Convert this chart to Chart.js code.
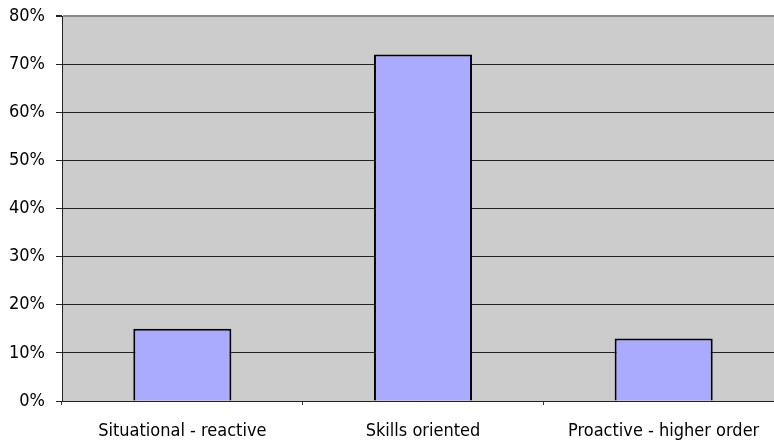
<!DOCTYPE html>
<html>
<head>
<meta charset="utf-8">
<script src="https://cdn.jsdelivr.net/npm/chart.js@4"></script>
<style>
  html, body { margin: 0; padding: 0; background: #fff; overflow: hidden; }
  #frame { width: 774px; height: 441px; overflow: hidden; position: relative; }
  #box { width: 784px; height: 441px; position: absolute; left: 0; top: 0; }
</style>
</head>
<body>
<div id="frame"><div id="box"><canvas id="c"></canvas></div></div>
<script>
// Share of responses by orientation type (percent)
const categories = ['Situational - reactive', 'Skills oriented', 'Proactive - higher order'];
const shares = [15, 72, 13];
const yTicks = [0, 10, 20, 30, 40, 50, 60, 70, 80];

const FONT = { family: "'DejaVu Sans Condensed', 'DejaVu Sans', sans-serif", size: 18 };

// Grey fill behind the plotting area
const plotBackground = {
  id: 'plotBackground',
  beforeDraw(chart) {
    const { ctx, chartArea: a } = chart;
    ctx.save();
    ctx.fillStyle = '#cccccc';
    ctx.fillRect(a.left, a.top, a.right - a.left, a.bottom - a.top);
    ctx.restore();
  }
};

new Chart(document.getElementById('c'), {
  type: 'bar',
  data: {
    labels: categories,
    datasets: [{
      data: shares,
      backgroundColor: '#aaaaff',
      borderColor: '#000000',
      borderWidth: 2,
      categoryPercentage: 1,
      barPercentage: 0.4075
    }]
  },
  options: {
    responsive: true,
    maintainAspectRatio: false,
    animation: false,
    devicePixelRatio: 1,
    layout: { padding: { top: 16, right: 0, bottom: 0, left: 0 } },
    plugins: { legend: { display: false }, tooltip: { enabled: false } },
    scales: {
      x: {
        offset: true,
        grid: {
          offset: true,
          drawOnChartArea: false,
          drawTicks: true,
          tickLength: 4,
          tickColor: '#333333'
        },
        border: { display: true, color: '#222222', width: 1 },
        ticks: { color: '#000', font: FONT, padding: 16, maxRotation: 0, autoSkip: false },
        afterFit(scale) { scale.height = 40; scale.paddingLeft = 0; scale.paddingRight = 0; }
      },
      y: {
        min: 0,
        max: 80,
        afterBuildTicks(scale) { scale.ticks = yTicks.map(v => ({ value: v })); },
        grid: {
          color: ctx => (ctx.tick && ctx.tick.value === 80) ? '#8a8a8a' : '#222222',
          lineWidth: ctx => (ctx.tick && ctx.tick.value === 80) ? 2 : 1,
          tickColor: '#222222',
          tickLength: 6
        },
        border: { display: true, color: '#222222', width: 1 },
        ticks: {
          color: '#000',
          font: FONT,
          padding: 11,
          callback: v => v + '%'
        },
        afterFit(scale) { scale.width = 62; scale.paddingTop = 0; scale.paddingBottom = 0; }
      }
    }
  },
  plugins: [plotBackground]
});
</script>
</body>
</html>
